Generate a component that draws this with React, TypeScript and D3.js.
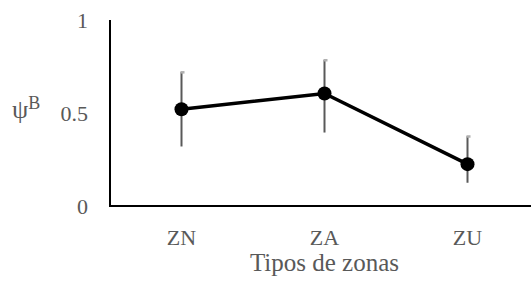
import React from "react";
import * as d3 from "d3";

const categories = ["ZN", "ZA", "ZU"];
const values = [0.52, 0.605, 0.225];
const errUpper = [0.72, 0.785, 0.375];
const errLower = [0.32, 0.395, 0.125];
const yTicks = [0, 0.5, 1];
const yTickLabels = ["0", "0.5", "1"];
const xTitle = "Tipos de zonas";

export default function App() {
  const W = 531, H = 283;
  const left = 110, right = 539, top = 20, bottom = 206;
  const x = d3.scaleBand<string>().domain(categories).range([left, right]);
  const y = d3.scaleLinear().domain([0, 1]).range([bottom, top]);
  const cx = (c: string) => (x(c) as number) + x.bandwidth() / 2;
  const pts = categories.map((c, i) => [cx(c), y(values[i])] as [number, number]);
  const line = d3.line()(pts) as string;
  const font = "'Liberation Serif', 'Times New Roman', serif";
  const grey = "#595959";
  return (
    <svg width={W} height={H} style={{ position: "absolute", left: 0, top: 0 }} fontFamily={font}>
      <rect width={W} height={H} fill="#fff" />
      {yTicks.map((t, i) => (
        <text key={t} x={88} y={y(t)} dy="0.35em" textAnchor="end" fontSize={22} fill={grey}>
          {yTickLabels[i]}
        </text>
      ))}
      <text x={12} y={118} fontSize={26} fill={grey}>
        ψ<tspan fontSize={18} dy={-9}>B</tspan>
      </text>
      <line x1={left} x2={W} y1={bottom} y2={bottom} stroke="#000" strokeWidth={2} />
      <line x1={left} x2={left} y1={top} y2={bottom + 1} stroke="#000" strokeWidth={2} />
      {categories.map((c) => (
        <text key={c} x={cx(c)} y={245} textAnchor="middle" fontSize={22} fill={grey}>
          {c}
        </text>
      ))}
      <text x={(left + right) / 2} y={271} textAnchor="middle" fontSize={25} fill={grey}>
        {xTitle}
      </text>
      {categories.map((c, i) => (
        <g key={c}>
          <line x1={cx(c)} x2={cx(c)} y1={y(errUpper[i])} y2={y(errLower[i])} stroke={grey} strokeWidth={2} />
          <rect x={cx(c) - 1} y={y(errUpper[i]) - 1} width={4} height={2.5} fill="#b0b0b0" />
        </g>
      ))}
      <path d={line} fill="none" stroke="#000" strokeWidth={3.5} />
      {pts.map((p, i) => (
        <circle key={i} cx={p[0]} cy={p[1]} r={7} fill="#000" />
      ))}
    </svg>
  );
}
